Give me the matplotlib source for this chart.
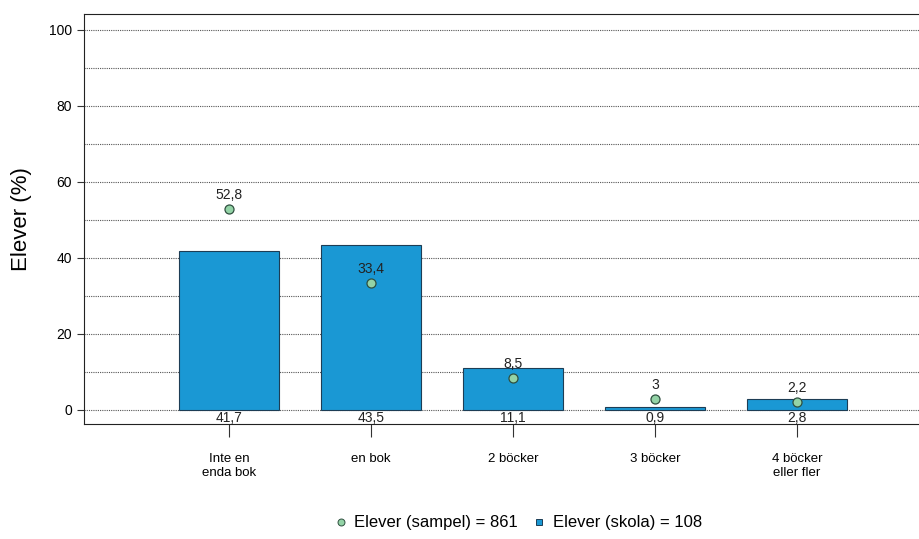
import matplotlib
matplotlib.use('Agg')
import matplotlib.pyplot as plt
from matplotlib.lines import Line2D

plt.rcParams['font.family'] = ['Liberation Sans', 'DejaVu Sans']

categories = ['Inte en\nenda bok', 'en bok', '2 böcker', '3 böcker', '4 böcker\neller fler']
skola = [41.7, 43.5, 11.1, 0.9, 2.8]
sampel = [52.8, 33.4, 8.5, 3, 2.2]
skola_n = 108
sampel_n = 861

bar_color = '#1a98d4'
dot_color = '#93d3a6'

fig = plt.figure(figsize=(9.2, 5.39), dpi=100)
ax = fig.add_axes([84 / 920, 1 - 424 / 539, 1 - 84 / 920, 410 / 539])

x = list(range(len(categories)))
ax.bar(x, skola, width=0.70, color=bar_color, edgecolor='#1d3d55',
       linewidth=0.8, zorder=2)
ax.plot(x, sampel, 'o', color=dot_color, markeredgecolor='#2f4f3f',
        markersize=6.5, markeredgewidth=0.9, zorder=3, linestyle='none')

fmt = lambda v: f'{v:g}'.replace('.', ',')
for xi, v in zip(x, skola):
    ax.annotate(fmt(v), (xi, 0), xytext=(0, -1), textcoords='offset points',
                ha='center', va='top', fontsize=10, color='#222222')
for xi, v in zip(x, sampel):
    ax.annotate(fmt(v), (xi, v), xytext=(0, 5), textcoords='offset points',
                ha='center', va='bottom', fontsize=10, color='#222222')

ax.set_ylim(-3.7, 104.2)
ax.set_xlim(-1.02, 4.866)
ax.set_yticks(range(0, 101, 20))
ax.set_yticks(range(0, 101, 10), minor=True)
ax.tick_params(axis='y', which='minor', length=0)
ax.grid(axis='y', which='both', linestyle=(0, (1, 1)), color='#555555',
        linewidth=0.8, zorder=0)
ax.set_axisbelow(True)
ax.set_xticks(x)
ax.set_xticklabels(categories, fontsize=9.5)
ax.tick_params(axis='x', length=9, pad=12, color='#333333')
ax.tick_params(axis='y', labelsize=10, length=5, color='#333333')
ax.spines['right'].set_visible(False)
for s in ['left', 'top', 'bottom']:
    ax.spines[s].set_color('#222222')
ax.set_ylabel('Elever (%)', fontsize=16, labelpad=12)

handles = [
    Line2D([], [], marker='o', linestyle='none', color=dot_color,
           markeredgecolor='#2f4f3f', markersize=5, markeredgewidth=0.7),
    Line2D([], [], marker='s', linestyle='none', color=bar_color,
           markeredgecolor='#1d3d55', markersize=5, markeredgewidth=0.7),
]
labels = [f'Elever (sampel) = {sampel_n}', f'Elever (skola) = {skola_n}']
fig.legend(handles, labels, loc='lower center', ncol=2, frameon=False,
           fontsize=12, bbox_to_anchor=(0.562, -0.012), handletextpad=0.3,
           columnspacing=0.8, handlelength=1.0)

fig.savefig('out.png', dpi=100)
